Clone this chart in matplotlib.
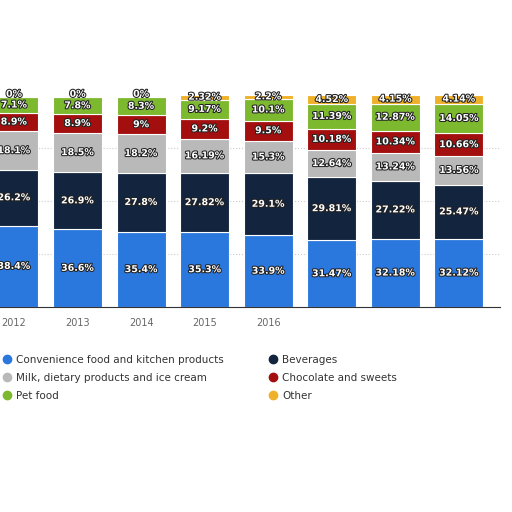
import matplotlib
matplotlib.use("Agg")
import matplotlib.pyplot as plt
import matplotlib.patheffects as pe
from matplotlib.lines import Line2D
import numpy as np

years = ["2012", "2013", "2014", "2015", "2016", "2017", "2018", "2019"]
convenience = [38.4, 36.6, 35.4, 35.3, 33.9, 31.47, 32.18, 32.12]
beverages = [26.2, 26.9, 27.8, 27.82, 29.1, 29.81, 27.22, 25.47]
milk = [18.1, 18.5, 18.2, 16.19, 15.3, 12.64, 13.24, 13.56]
chocolate = [8.9, 8.9, 9.0, 9.2, 9.5, 10.18, 10.34, 10.66]
petfood = [7.1, 7.8, 8.3, 9.17, 10.1, 11.39, 12.87, 14.05]
other = [0, 0, 0, 2.32, 2.2, 4.52, 4.15, 4.14]
labels_conv = ["38.4%", "36.6%", "35.4%", "35.3%", "33.9%", "31.47%", "32.18%", "32.12%"]
labels_bev = ["26.2%", "26.9%", "27.8%", "27.82%", "29.1%", "29.81%", "27.22%", "25.47%"]
labels_milk = ["18.1%", "18.5%", "18.2%", "16.19%", "15.3%", "12.64%", "13.24%", "13.56%"]
labels_choc = ["8.9%", "8.9%", "9%", "9.2%", "9.5%", "10.18%", "10.34%", "10.66%"]
labels_pet = ["7.1%", "7.8%", "8.3%", "9.17%", "10.1%", "11.39%", "12.87%", "14.05%"]
labels_other = ["0%", "0%", "0%", "2.32%", "2.2%", "4.52%", "4.15%", "4.14%"]

series = [
    ("Convenience food and kitchen products", convenience, labels_conv, "#2a78de"),
    ("Beverages", beverages, labels_bev, "#12243e"),
    ("Milk, dietary products and ice cream", milk, labels_milk, "#b9b9b9"),
    ("Chocolate and sweets", chocolate, labels_choc, "#a30f0f"),
    ("Pet food", petfood, labels_pet, "#7db92f"),
    ("Other", other, labels_other, "#f0b12a"),
]

fig = plt.figure(figsize=(5.12, 5.12), dpi=100)
ax = fig.add_axes([0.0, 0.40, 0.977, 0.415])
x = np.arange(len(years))
bottom = np.zeros(len(years))
for name, vals, labs, col in series:
    v = np.array(vals, dtype=float)
    ax.bar(x, v, 0.77, bottom=bottom, color=col, edgecolor="white", linewidth=0.8, zorder=2)
    for i in range(len(x)):
        yc = bottom[i] + v[i] / 2 if v[i] > 0 else bottom[i] + 1.5
        ax.text(x[i], yc, labs[i], ha="center", va="center", fontsize=6.8, color="white",
                fontweight="bold", zorder=3,
                path_effects=[pe.withStroke(linewidth=1.5, foreground="#222222")])
    bottom += v

ax.set_xlim(-0.22, 7.65)
ax.set_ylim(0, 100)
ax.set_xticks(x[:5])
ax.set_xticklabels(years[:5], fontsize=7, color="#666666")
ax.tick_params(axis="x", length=0, pad=8)
ax.set_yticks([25, 50, 75])
ax.set_yticklabels([])
ax.tick_params(axis="y", length=0)
ax.grid(axis="y", linestyle=":", color="#cccccc", zorder=0)
for s in ["top", "right", "left"]:
    ax.spines[s].set_visible(False)
ax.spines["bottom"].set_color("#333333")

order = [0, 2, 4, 1, 3, 5]
handles = [Line2D([], [], marker="o", linestyle="none", markersize=6,
                  color=series[i][3]) for i in order]
fig.legend(handles, [series[i][0] for i in order], loc="upper left",
           bbox_to_anchor=(-0.015, 0.325), ncol=2, frameon=False, fontsize=7.5,
           labelcolor="#333333", handlelength=1.0, columnspacing=4.2,
           labelspacing=0.75, handletextpad=0.4)
fig.savefig("out.png", dpi=100, facecolor="white")
